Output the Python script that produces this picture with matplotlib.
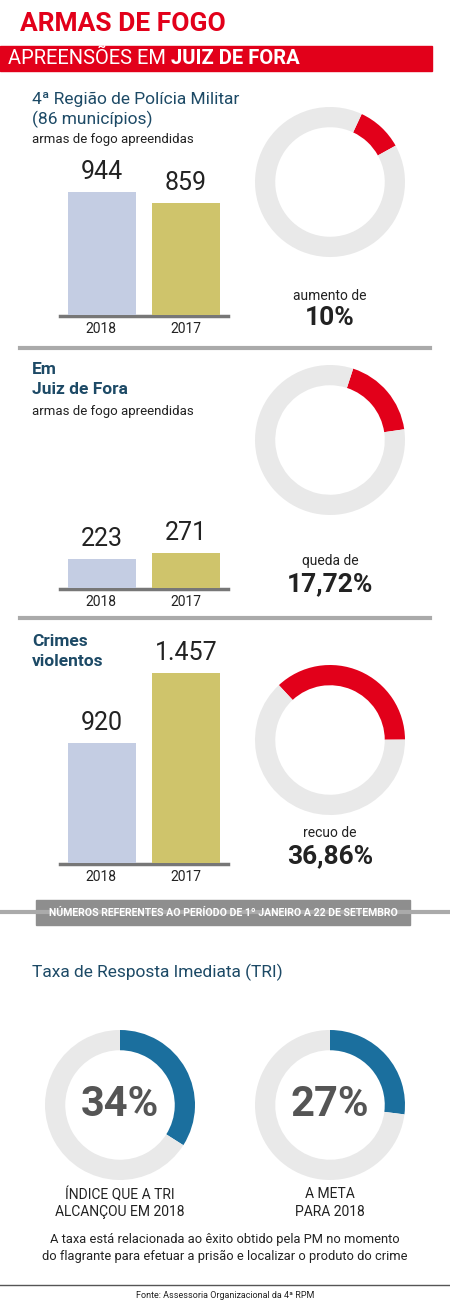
import matplotlib
matplotlib.use("Agg")
import matplotlib.pyplot as plt
from matplotlib.patches import Rectangle

W, H = 450, 1314
years = ["2018", "2017"]
rpm_vals = [944, 859]
jf_vals = [223, 271]
crime_vals = [920, 1457]
pct_labels = ["aumento de", "queda de", "recuo de"]
pct_texts = ["10%", "17,72%", "36,86%"]
pct_vals = [10, 17.72, 36.86]
pct_start = [65, 72, 133]
tri_vals = [34, 27]
tri_labels = ["ÍNDICE QUE A TRI\nALCANÇOU EM 2018", "A META\nPARA 2018"]

RED = "#e2001a"; BLUE = "#1b6f9e"; NAVY = "#1d4a66"; LG = "#e9e9e9"
BAR_C = ["#c4cde3", "#cfc46b"]
SCALE = 0.1303  # px per unit

fig = plt.figure(figsize=(4.5, 13.14), dpi=100)
bg = fig.add_axes([0, 0, 1, 1]); bg.set_xlim(0, W); bg.set_ylim(H, 0); bg.axis("off")

def T(x, y, s, **k):
    k.setdefault("family", "Roboto")
    bg.text(x, y, s, **k)

def pax(x0, y0, x1, y1):
    return fig.add_axes([x0 / W, 1 - y1 / H, (x1 - x0) / W, (y1 - y0) / H])

# header
T(20, 24, "ARMAS DE FOGO", color=RED, fontsize=19, weight="bold", va="center")
bg.add_patch(Rectangle((0, 46), 432, 25, color=RED))
T(8, 59, "APREENSÕES EM ", color="white", fontsize=14.5, va="center")
T(171, 59, "JUIZ DE FORA", color="white", fontsize=14.5, weight="bold", va="center")

def bars(vals, base, top_px):
    ax = pax(60, top_px, 228, base)
    ax.bar([0, 1], vals, width=0.8, color=BAR_C)
    ax.set_xlim(-0.5, 1.5); ax.set_ylim(0, (base - top_px) / SCALE)
    ax.axis("off")
    for i, v in enumerate(vals):
        ax.text(i, v + 8 / SCALE, f"{v:,}".replace(",", "."), ha="center", va="bottom",
                fontsize=18, family="Roboto", color="#222")
    bg.plot([60, 228], [base + 1, base + 1], color="#777", lw=2.5)
    for i, y in enumerate(years):
        T(101 + 85 * i, base + 14, y, ha="center", va="center", fontsize=10, color="#222")

def donut(cx, cy, val, start, col, r=75):
    ax = pax(cx - r, cy - r, cx + r, cy + r)
    ax.pie([val, 100 - val], colors=[col, LG], startangle=start, counterclock=False,
           wedgeprops=dict(width=0.27, linewidth=0))
    ax.set_xlim(-1, 1); ax.set_ylim(-1, 1); ax.set_aspect("equal")
    return ax

# section 1
T(32, 99, "4ª Região de Polícia Militar", color=NAVY, fontsize=12.5, va="center")
T(32, 119, "(86 municípios)", color=NAVY, fontsize=12.5, va="center")
T(32, 140, "armas de fogo apreendidas", color="#222", fontsize=9.5, va="center")
bars(rpm_vals, 315, 120)
donut(330, 182, pct_vals[0], pct_start[0], RED)
T(330, 296, pct_labels[0], ha="center", va="center", fontsize=10, color="#222")
T(330, 318, pct_texts[0], ha="center", va="center", fontsize=19, weight="bold", color="#222")
bg.plot([20, 430], [348, 348], color="#aaa", lw=3)

# section 2
T(32, 369, "Em", color=NAVY, fontsize=12.5, weight="bold", va="center")
T(32, 390, "Juiz de Fora", color=NAVY, fontsize=12.5, weight="bold", va="center")
T(32, 411, "armas de fogo apreendidas", color="#222", fontsize=9.5, va="center")
bars(jf_vals, 588, 430)
donut(330, 440, pct_vals[1], pct_start[1], RED)
T(330, 561, pct_labels[1], ha="center", va="center", fontsize=10, color="#222")
T(330, 584, pct_texts[1], ha="center", va="center", fontsize=19, weight="bold", color="#222")
bg.plot([20, 430], [618, 618], color="#aaa", lw=3)

# section 3
T(32, 641, "Crimes", color=NAVY, fontsize=12.5, weight="bold", va="center")
T(32, 662, "violentos", color=NAVY, fontsize=12.5, weight="bold", va="center")
bars(crime_vals, 863, 620)
donut(330, 740, pct_vals[2], pct_start[2], RED)
T(330, 833, pct_labels[2], ha="center", va="center", fontsize=10, color="#222")
T(330, 856, pct_texts[2], ha="center", va="center", fontsize=19, weight="bold", color="#222")

# banner
bg.plot([0, 450], [912, 912], color="#aaa", lw=3)
bg.add_patch(Rectangle((36, 900), 374, 25, color="#8e8e8e"))
T(223, 912.5, "NÚMEROS REFERENTES AO PERÍODO DE 1º JANEIRO A 22 DE SETEMBRO",
  ha="center", va="center", fontsize=7.6, weight="bold", color="white")

# TRI
T(32, 972, "Taxa de Resposta Imediata (TRI)", color=NAVY, fontsize=12.5, va="center")
for cx, v, lab in zip([120, 330], tri_vals, tri_labels):
    donut(cx, 1105, v, 90, BLUE)
    T(cx, 1105, f"{v}%", ha="center", va="center", fontsize=30, color="#555", weight="bold")
    T(cx, 1203, lab, ha="center", va="center", fontsize=10, color="#222", linespacing=1.3)
T(225, 1248, "A taxa está relacionada ao êxito obtido pela PM no momento\ndo flagrante para efetuar a prisão e localizar o produto do crime",
  ha="center", va="center", fontsize=9.3, color="#222", linespacing=1.35)
bg.plot([0, 450], [1285, 1285], color="#555", lw=1)
T(225, 1296, "Fonte: Assessoria Organizacional da 4ª RPM", ha="center", va="center", fontsize=6.5, color="#222")

fig.savefig("out.png", dpi=100)
